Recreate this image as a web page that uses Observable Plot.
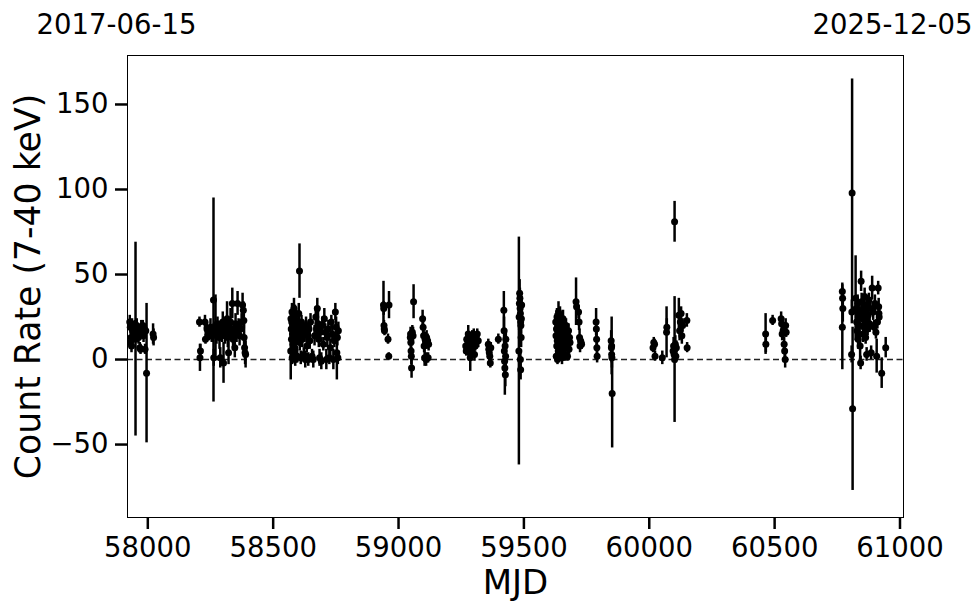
<!DOCTYPE html>
<html><head><meta charset="utf-8">
<script src="https://cdn.jsdelivr.net/npm/d3@7"></script>
<script src="https://cdn.jsdelivr.net/npm/@observablehq/plot@0.6"></script>
<style>body{margin:0;background:#fff}</style>
</head><body><div id="chart"></div>
<script>
// Observation dates (MJD), count rates and 1-sigma errors, grouped by visibility window
const mjd = [
 57928,57930,57931,57933,57935,57937,57940,57943,57946,57949,57951,57953,57956,57958,57961,57963,57966,57968,57971,57974,57977,57980,57983,57986,57989,57992,57995,58021,58023,
 58206,58208,58210,58228,58230,58236,58240,58245,58250,58255,58262,58263,58266,58270,58274,58278,58282,58286,58289,58292,58296,58299,58302,58305,58308,58312,58316,58319,58322,58326,58330,58333,58337,58340,58344,58347,58350,58354,58358,58362,58366,58370,58374,58378,58381,58383,58384,58386,58388,58390,
 58570,58571,58572,58573,58574,58575,58576,58577,58578,58579,58580,58581,58582,58583,58584,58585,58586,58587,58588,58589,58590,58592,58594,58596,58598,58600,58602,58605,58606,58608,58610,58613,58616,58619,58622,58625,58628,58631,58634,58637,58640,58643,58646,58649,58655,58660,58665,58670,58673,58676,58679,58682,58685,58688,58692,58696,58700,58704,58708,58712,58716,58720,58724,58728,58732,58736,58740,58744,58748,58751,58754,58756,58758,58760,
 58940,58941,58942,58943,58944,58958,58962,58961,
 59047,59048,59049,59050,59051,59052,59055,59058,59060,
 59096,59098,59100,59102,59104,59106,59108,59110,59112,59114,59116,59118,59120,
 59268,59270,59272,59275,59278,59281,59284,59286,59288,59291,59294,59297,59300,59303,59306,59310,59314,59318,
 59358,59360,59362,59364,59366,59368,
 59398,59420,59421,59422,59423,59424,59425,59426,59427,59428,
 59480,59481,59482,59483,59484,59485,59486,59487,59488,59489,59486,59487,59490,59491,
 59627,59628,59629,59630,59631,59632,59633,59634,59635,59636,59637,59638,59639,59640,59641,59642,59643,59644,59645,59646,59647,59648,59650,59652,59654,59656,59658,59660,59662,59664,59666,59668,59670,59672,59674,59676,59678,59680,59682,59684,
 59708,59710,59718,59720,59722,59724,59726,59728,59730,
 59788,59789,59790,59791,59792,
 59848,59849,59850,59851,59852,59850,
 60015,60018,60021,60023,60052,
 60069,60070,
 60101,60095,60097,60099,60101,60102,60104,60106,60108,60118,60121,60124,60127,60130,60133,60150,60151,
 60464,60465,60492,60526,60528,60530,60534,60538,60540,60542,60544,60546,
 60770,60771,60772,60770,60809,60811,60808,60807,60823,60825,60827,60829,60831,60833,60835,60837,60839,60841,60843,60845,60847,60849,60851,60853,60855,60857,60859,60861,60863,60865,60867,60869,60871,60873,60876,60879,60882,60885,60889,60893,60897,60900,60904,60907,60910,60913,60915,60916,60917,60927,60943
];
const rate = [
 22,19,10,13,8,21,16,18,14,19,12,17,20,15,18,13,17,7,6,19,16,20,14,18,6,17,-8,15,13,
 22,1,5,22,12,18,16,15,19,14,35,1,17,20,15,21,16,13,1,18,14,22,-2,17,15,20,24,13,4,19,22,16,33,12,18,7,21,15,33,19,14,18,22,32,29,23,13,7,4,3,
 5,24,18,12,22,28,1,15,20,9,25,3,17,30,13,21,7,26,0,19,11,23,16,2,14,20,27,52,10,17,1,22,12,18,3,15,0,20,8,14,0,18,11,22,2,0,14,25,18,30,21,12,1,16,-1,20,9,24,16,0,13,18,1,7,22,15,0,11,28,19,4,13,1,17,
 32,30,20,18,17,12,32,2,
 13,15,10,5,2,-5,16,14,34,
 24,19,14,8,1,12,10,0,13,9,11,1,9,
 8,5,12,7,15,10,4,1,11,6,13,9,14,3,8,12,15,11,
 9,6,4,2,-2,7,
 12,29,17,5,-1,-5,8,-9,2,12,
 5,25,33,39,36,30,27,22,20,13,0,-6,24,32,
 22,14,2,18,8,25,11,0,20,16,5,28,13,23,9,17,3,26,12,19,6,15,21,1,10,24,14,7,18,3,12,20,9,15,2,11,17,6,13,10,
 34,31,28,22,13,8,11,10,9,
 22,18,12,7,2,
 11,7,3,1,-20,8,
 7,10,9,2,1,
 16,19,
 81,5,8,3,0,6,9,2,7,26,17,22,27,14,20,23,7,
 15,9,23,24,21,15,17,9,5,0,20,16,
 40,36,30,19,98,-29,28,3,36,30,22,17,33,12,27,25,20,8,-2,46,34,29,24,15,31,19,37,27,13,22,3,32,18,26,35,21,30,4,42,28,19,33,16,2,22,42,31,27,25,-8,7
];
const err = [
 4,3,4,3,4,3,4,3,3,4,57,3,4,3,3,4,3,3,3,4,3,3,4,3,3,3,41,6,5,
 3,8,4,4,3,4,3,4,5,4,60,5,5,18,6,4,5,7,6,5,4,6,12,5,6,4,10,6,7,5,8,5,9,5,4,6,6,5,7,5,6,4,5,7,5,5,10,5,7,8,
 17,5,4,4,6,5,4,4,5,4,5,5,4,6,4,5,4,6,4,4,5,6,5,4,5,4,6,16,5,5,4,4,5,4,4,5,5,5,4,4,4,4,5,5,4,5,6,6,5,6,8,5,5,6,5,5,4,6,5,6,6,5,4,5,4,5,6,4,5,6,16,5,4,5,
 14,4,3,3,3,3,8,2,
 4,4,4,4,5,6,4,5,10,
 5,4,4,4,5,4,3,4,4,3,4,3,4,
 4,3,4,3,5,4,4,8,3,3,4,3,4,4,3,4,3,4,
 3,3,3,3,3,3,
 3,11,8,8,7,16,6,7,6,5,
 67,8,6,8,6,7,6,6,5,6,5,6,6,5,
 5,4,3,4,4,5,4,3,4,5,4,6,4,5,4,4,4,5,4,4,4,4,5,4,4,5,4,4,4,4,4,4,4,4,3,4,4,3,3,3,
 14,4,4,5,5,4,3,3,3,
 8,5,5,5,4,
 6,5,5,6,32,17,
 3,3,3,3,4,
 15,5,
 12,4,5,4,37,4,5,4,4,10,6,5,4,5,4,4,3,
 12,5,3,4,4,4,4,4,5,5,4,3,
 5,6,8,25,67,48,7,5,25,6,5,6,5,6,5,6,5,8,4,6,5,6,5,5,6,5,5,5,4,4,4,5,4,5,4,5,4,4,7,5,4,5,4,10,4,4,5,4,4,9,6
];
const xDomain = [57919, 61014];
const yDomain = [-92.9, 178.8];
const xTicks = [58000, 58500, 59000, 59500, 60000, 60500, 61000];
const yTicks = [-50, 0, 50, 100, 150];
const dateTicks = [57919, 61014];
const dateLabels = ["2017-06-15", "2025-12-05"];
const xLabel = "MJD";
const yLabel = "Count Rate (7-40 keV)";

const data = mjd.map((m, i) => ({mjd: m, rate: rate[i], err: err[i]}));
const fmt = d => (d < 0 ? "\u2212" + Math.abs(d) : String(d));

const chart = Plot.plot({
  width: 980, height: 613,
  marginLeft: 127, marginRight: 77, marginTop: 55, marginBottom: 96,
  style: {fontFamily: "'DejaVu Sans', sans-serif", background: "#fff", color: "#000"},
  x: {domain: xDomain},
  y: {domain: yDomain},
  marks: [
    Plot.ruleY([0], {stroke: "#222", strokeWidth: 1.5, strokeDasharray: "6,3.5"}),
    Plot.ruleX(data, {x: "mjd", y1: d => d.rate - d.err, y2: d => d.rate + d.err, stroke: "#000", strokeWidth: 2.5}),
    Plot.dot(data, {x: "mjd", y: "rate", r: 3.5, fill: "#000", stroke: "none"}),
    Plot.frame({stroke: "#000", strokeWidth: 1}),
    Plot.axisX({ticks: xTicks, tickSize: 12, tickPadding: 8, fontSize: 27.5, strokeWidth: 2.5, label: null, tickFormat: fmt}),
    Plot.axisY({ticks: yTicks, tickSize: 12, tickPadding: 7, fontSize: 27.5, strokeWidth: 2.5, label: null, tickFormat: fmt}),
    Plot.axisX({anchor: "top", ticks: dateTicks, tickSize: 0, tickPadding: 22, fontSize: 27.5, dx: -11, label: null,
      tickFormat: d => dateLabels[dateTicks.indexOf(d)]}),
    Plot.text([yLabel], {text: d => d, frameAnchor: "left", rotate: -90, dx: -99, textAnchor: "middle", lineAnchor: "middle", fontSize: 34.7, fill: "#000"}),
    Plot.text([xLabel], {text: d => d, frameAnchor: "bottom", dy: 66, textAnchor: "middle", lineAnchor: "middle", fontSize: 34, fill: "#000"})
  ]
});
document.getElementById("chart").appendChild(chart);
</script>
</body></html>
